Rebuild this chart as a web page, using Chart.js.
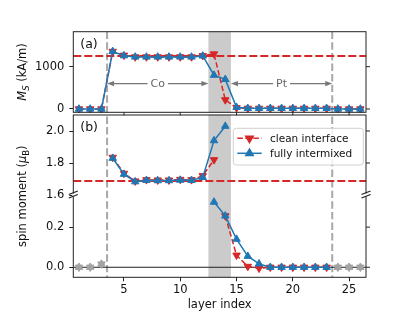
<!DOCTYPE html>
<html>
<head>
<meta charset="utf-8">
<script src="https://cdn.jsdelivr.net/npm/chart.js@4"></script>
<style>
  html, body { margin: 0; padding: 0; background: #fff; }
  canvas { display: block; }
</style>
</head>
<body>
<canvas id="chart" width="407" height="326"></canvas>
<script>
// panel (a): saturation magnetisation per layer (kA/m)
const layers = [1, 2, 3, 4, 5, 6, 7, 8, 9, 10, 11, 12, 13, 14, 15, 16, 17, 18, 19, 20, 21, 22, 23, 24, 25, 26];
const msClean = [0, 0, 0, 1360, 1270, 1230, 1230, 1230, 1230, 1230, 1230, 1260, 1300, 215, 30, 15, 15, 15, 15, 15, 15, 15, 15, 0, 0, 0];
const msMixed = [0, 0, 0, 1360, 1260, 1230, 1230, 1230, 1230, 1230, 1230, 1255, 800, 700, 40, 15, 15, 15, 15, 15, 15, 15, 15, 0, 0, 0];
const bulkMs = 1255;

// panel (b): spin moment per layer (mu_B), Co part and Pt part
const coLayersClean = [4, 5, 6, 7, 8, 9, 10, 11, 12, 13];
const coClean = [1.835, 1.735, 1.687, 1.695, 1.693, 1.693, 1.697, 1.695, 1.72, 1.82];
const coLayersMixed = [4, 5, 6, 7, 8, 9, 10, 11, 12, 13, 14];
const coMixed = [1.83, 1.73, 1.683, 1.692, 1.69, 1.69, 1.693, 1.692, 1.71, 1.94, 2.03];
const ptLayersClean = [14, 15, 16, 17, 18, 19, 20, 21, 22, 23];
const ptClean = [0.256, 0.06, 0.004, -0.005, 0, 0, 0, 0, 0, 0];
const ptLayersMixed = [13, 14, 15, 16, 17, 18, 19, 20, 21, 22, 23];
const ptMixed = [0.325, 0.256, 0.14, 0.055, 0.017, 0, 0, 0, 0, 0, 0];
const vacuumLayers = [1, 2, 3, 24, 25, 26];
const vacuumMoment = [0, 0, 0.016, 0, 0, 0];
const bulkMoment = 1.688;

const coRange = [3.5, 12.5];
const ptRange = [14.5, 23.5];
const interfaceBand = [12.5, 14.5];
const xTicks = [5, 10, 15, 20, 25];
const msTicks = [0, 1000];
const highTicks = [1.6, 1.8, 2.0];
const lowTicks = [0.0, 0.2];

const red = '#d62728', blue = '#1f77b4', grey = '#a3a3a3', ink = '#111';
const FONT = '"DejaVu Sans", sans-serif';
Chart.defaults.font.family = FONT;
Chart.defaults.font.size = 11.5;

const pairs = (xs, ys) => xs.map((x, i) => ({ x: x, y: ys[i] }));

const mixedStyle = { label: 'fully intermixed', borderColor: blue, backgroundColor: blue, borderWidth: 1.5,
  pointStyle: 'triangle', pointRotation: 0, pointRadius: 4.3, pointBorderWidth: 1, order: 0 };
const cleanStyle = { label: 'clean interface', borderColor: red, backgroundColor: red, borderWidth: 1.5,
  borderDash: [5.5, 2.5], pointStyle: 'triangle', pointRotation: 180, pointRadius: 4.3, pointBorderWidth: 1, order: 1 };
const vacStyle = { borderColor: grey, backgroundColor: grey, showLine: false, pointStyle: 'triangle',
  pointRadius: 4.3, pointBorderWidth: 1, order: 2 };

function yAxis(weight, stackWeight, min, max, tickList, fmt) {
  return {
    type: 'linear', position: 'left', stack: 'panels', weight: weight, stackWeight: stackWeight, min: min, max: max,
    afterBuildTicks: s => { s.ticks = tickList.map(v => ({ value: v })); },
    afterFit: s => { s.width = 45; },
    grid: { drawOnChartArea: false, tickLength: 4, tickColor: '#222' },
    border: { display: false },
    ticks: { color: ink, padding: 5, callback: fmt }
  };
}

function line(ctx, x0, y0, x1, y1) {
  ctx.beginPath(); ctx.moveTo(x0, y0); ctx.lineTo(x1, y1); ctx.stroke();
}

function arrowHead(ctx, x, y, dir) {
  ctx.beginPath();
  ctx.moveTo(x, y);
  ctx.lineTo(x + dir * 7, y - 2.6);
  ctx.lineTo(x + dir * 7, y + 2.6);
  ctx.closePath();
  ctx.fill();
}

function richText(ctx, parts, x, y) {
  ctx.save();
  ctx.translate(x, y);
  ctx.rotate(-Math.PI / 2);
  const fontFor = p => (p[1] === 'i' ? 'italic ' : '') + (p[2] ? 8.5 : 11.5) + 'px ' + FONT;
  let total = 0;
  for (const p of parts) { ctx.font = fontFor(p); total += ctx.measureText(p[0]).width; }
  let cx = -total / 2;
  ctx.textBaseline = 'alphabetic';
  ctx.fillStyle = ink;
  for (const p of parts) {
    ctx.font = fontFor(p);
    ctx.fillText(p[0], cx, p[2] ? 6.5 : 4);
    cx += ctx.measureText(p[0]).width;
  }
  ctx.restore();
}

const decor = {
  id: 'decor',
  beforeDatasetsDraw(chart) {
    const { ctx, chartArea: ca, scales: { x, yA, yB, yC } } = chart;
    ctx.save();
    // interface band
    const b0 = x.getPixelForValue(interfaceBand[0]), b1 = x.getPixelForValue(interfaceBand[1]);
    ctx.fillStyle = '#cbcbcb';
    ctx.fillRect(b0, ca.top, b1 - b0, ca.bottom - ca.top);
    // Co / Pt boundaries
    ctx.strokeStyle = '#a8a8a8';
    ctx.lineWidth = 2;
    ctx.setLineDash([7.4, 3.2]);
    for (const v of [coRange[0], ptRange[1]]) {
      const px = x.getPixelForValue(v);
      line(ctx, px, ca.top, px, ca.bottom);
    }
    // bulk reference values
    ctx.strokeStyle = red;
    ctx.setLineDash([8, 3]);
    let py = yA.getPixelForValue(bulkMs);
    line(ctx, ca.left, py, ca.right, py);
    py = yB.getPixelForValue(bulkMoment);
    line(ctx, ca.left, py, ca.right, py);
    // zero line
    ctx.setLineDash([]);
    ctx.strokeStyle = '#222';
    ctx.lineWidth = 1;
    py = yC.getPixelForValue(0);
    line(ctx, ca.left, py, ca.right, py);
    // Co / Pt arrows
    const ay = yA.getPixelForValue(600);
    ctx.strokeStyle = '#777';
    ctx.fillStyle = '#777';
    ctx.lineWidth = 1.3;
    ctx.font = '11px ' + FONT;
    ctx.textAlign = 'center';
    ctx.textBaseline = 'middle';
    for (const [r, name] of [[coRange, 'Co'], [ptRange, 'Pt']]) {
      const x0 = x.getPixelForValue(r[0]), x1 = x.getPixelForValue(r[1]);
      line(ctx, x0 + 3, ay, x1 - 3, ay);
      arrowHead(ctx, x0, ay, 1);
      arrowHead(ctx, x1, ay, -1);
      const mid = (x0 + x1) / 2, w = ctx.measureText(name).width;
      ctx.fillStyle = '#fff';
      ctx.fillRect(mid - w / 2 - 3, ay - 7, w + 6, 14);
      ctx.fillStyle = '#666';
      ctx.fillText(name, mid, ay + 0.5);
      ctx.fillStyle = '#777';
    }
    ctx.restore();
  },
  afterDatasetsDraw(chart) {
    const { ctx, chartArea: ca, scales: { x, yA, yB, yC } } = chart;
    const aBottom = yA.bottom - 2.7;
    ctx.save();
    // gap between panels
    ctx.fillStyle = '#fff';
    ctx.fillRect(ca.left - 0.5, aBottom + 0.5, ca.right - ca.left + 1, yB.top - aBottom - 1);
    // spines
    ctx.strokeStyle = '#222';
    ctx.lineWidth = 1;
    ctx.strokeRect(ca.left, ca.top, ca.right - ca.left, aBottom - ca.top);
    ctx.strokeRect(ca.left, yB.top, ca.right - ca.left, ca.bottom - yB.top);
    // bottom ticks of panel (a)
    for (const v of xTicks) {
      const px = x.getPixelForValue(v);
      line(ctx, px, aBottom, px, aBottom + 3);
    }
    // right-hand ticks
    for (const [s, list] of [[yA, msTicks], [yB, highTicks.slice(1)], [yC, lowTicks]]) {
      for (const v of list) {
        const py = s.getPixelForValue(v);
        line(ctx, ca.right, py, ca.right + 4, py);
      }
    }
    // axis break marks
    const by = yB.bottom;
    ctx.lineWidth = 1.3;
    for (const bx of [ca.left, ca.right]) {
      ctx.fillStyle = '#fff';
      ctx.fillRect(bx - 1, by - 1.5, 2, 3);
      line(ctx, bx - 4.5, by - 0.5, bx + 4.5, by - 4);
      line(ctx, bx - 4.5, by + 3, bx + 4.5, by - 0.5);
    }
    // legend
    const lx = ca.right - 132.7, ly = yB.top + 13.3, lw = 130, lh = 36.7;
    ctx.beginPath();
    ctx.roundRect(lx, ly, lw, lh, 3);
    ctx.fillStyle = 'rgba(255,255,255,0.85)';
    ctx.fill();
    ctx.strokeStyle = '#d0d0d0';
    ctx.lineWidth = 1;
    ctx.stroke();
    ctx.font = '10.5px ' + FONT;
    ctx.textAlign = 'left';
    ctx.textBaseline = 'middle';
    [cleanStyle, mixedStyle].forEach((st, i) => {
      const ry = ly + 10 + i * 15;
      ctx.strokeStyle = st.borderColor;
      ctx.lineWidth = st.borderWidth;
      ctx.setLineDash(st.borderDash || []);
      line(ctx, lx + 4, ry, lx + 28.4, ry);
      ctx.setLineDash([]);
      ctx.fillStyle = st.backgroundColor;
      Chart.helpers.drawPoint(ctx, { pointStyle: 'triangle', rotation: st.pointRotation, radius: 4.3, borderWidth: 1 }, lx + 16.2, ry);
      ctx.fill();
      ctx.fillStyle = ink;
      ctx.fillText(st.label, lx + 36.7, ry + 0.5);
    });
    // panel letters
    ctx.font = '12.5px ' + FONT;
    ctx.fillStyle = ink;
    ctx.fillText('(a)', ca.left + 7, ca.top + 13.5);
    ctx.fillText('(b)', ca.left + 7, yB.top + 13);
    ctx.restore();
  },
  afterDraw(chart) {
    const { ctx, chartArea: ca, scales: { yA, yB } } = chart;
    richText(ctx, [['M', 'i'], ['S', 'i', true], [' (kA/m)', '']], 22, (ca.top + yA.bottom - 2.7) / 2);
    richText(ctx, [['spin moment (', ''], ['\u03bc', 'i'], ['B', '', true], [')', '']], 22, (yB.top + ca.bottom) / 2);
  }
};

new Chart(document.getElementById('chart'), {
  type: 'line',
  data: {
    datasets: [
      Object.assign({}, mixedStyle, { yAxisID: 'yA', data: pairs(layers, msMixed) }),
      Object.assign({}, cleanStyle, { yAxisID: 'yA', data: pairs(layers, msClean) }),
      Object.assign({}, mixedStyle, { yAxisID: 'yB', data: pairs(coLayersMixed, coMixed) }),
      Object.assign({}, cleanStyle, { yAxisID: 'yB', data: pairs(coLayersClean, coClean) }),
      Object.assign({}, mixedStyle, { yAxisID: 'yC', data: pairs(ptLayersMixed, ptMixed) }),
      Object.assign({}, cleanStyle, { yAxisID: 'yC', data: pairs(ptLayersClean, ptClean) }),
      Object.assign({}, vacStyle, { yAxisID: 'yC', pointRotation: 0, data: pairs(vacuumLayers, vacuumMoment) }),
      Object.assign({}, vacStyle, { yAxisID: 'yC', pointRotation: 180, data: pairs(vacuumLayers, vacuumMoment) })
    ]
  },
  options: {
    responsive: false,
    animation: false,
    events: [],
    layout: { padding: { left: 28.3, right: 41, top: 31.7, bottom: 8.7 } },
    plugins: { legend: { display: false }, tooltip: { enabled: false } },
    scales: {
      x: {
        type: 'linear', min: 0.5, max: 26.5,
        afterBuildTicks: s => { s.ticks = xTicks.map(v => ({ value: v })); },
        afterFit: s => { s.height = 40; },
        grid: { drawOnChartArea: false, tickLength: 4, tickColor: '#222' },
        border: { display: false },
        ticks: { color: ink, padding: 2, callback: v => String(v) },
        title: { display: true, text: 'layer index', color: ink, padding: { top: 0, bottom: 5 } }
      },
      yA: yAxis(3, 83.3, -142, 1827, msTicks, v => String(v)),
      yB: yAxis(2, 80, 1.6, 2.1, highTicks, v => v.toFixed(1)),
      yC: yAxis(1, 82.3, -0.05, 0.36, lowTicks, v => v.toFixed(1))
    }
  },
  plugins: [decor]
});
</script>
</body>
</html>
